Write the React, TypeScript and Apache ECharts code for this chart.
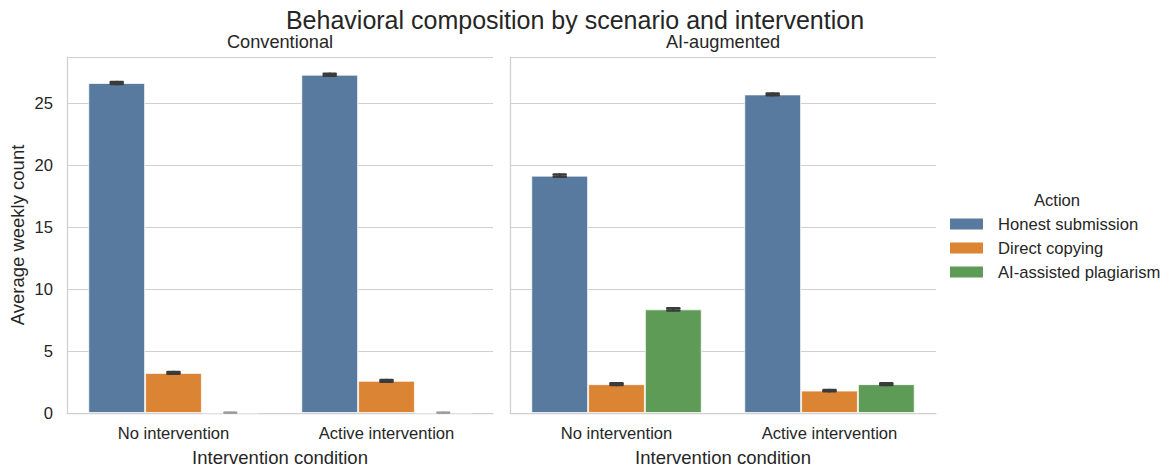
import React, { useEffect, useRef } from 'react';
import * as echarts from 'echarts';

const categories = ['No intervention', 'Active intervention'];
const actions = ['Honest submission', 'Direct copying', 'AI-assisted plagiarism'];
const panelTitles = ['Conventional', 'AI-augmented'];
const yTicks = [0, 5, 10, 15, 20, 25];

// Conventional scenario: means per action, [No intervention, Active intervention]
const convHonest = [26.65, 27.32];
const convCopying = [3.24, 2.6];
const convAIPlag = [0.03, 0.03];
// AI-augmented scenario
const aiHonest = [19.17, 25.73];
const aiCopying = [2.33, 1.81];
const aiAIPlag = [8.37, 2.33];

// half-width of the error bars
const convHonestErr = [0.08, 0.08];
const convCopyingErr = [0.07, 0.07];
const convAIPlagErr = [0.01, 0.01];
const aiHonestErr = [0.09, 0.07];
const aiCopyingErr = [0.06, 0.05];
const aiAIPlagErr = [0.09, 0.06];

const colors = ['#587a9f', '#db8433', '#5d9b57'];
const FONT = '"Liberation Sans", Arial, "DejaVu Sans", sans-serif';
const TEXT = '#262626';
const GRIDC = '#d0d0d0';

export default function App() {
  const ref = useRef<HTMLDivElement>(null);
  useEffect(() => {
    if (!ref.current) return;
    const chart = echarts.init(ref.current, null, { renderer: 'svg' });
    const panelMeans = [
      [convHonest, convCopying, convAIPlag],
      [aiHonest, aiCopying, aiAIPlag],
    ];
    const panelErrs = [
      [convHonestErr, convCopyingErr, convAIPlagErr],
      [aiHonestErr, aiCopyingErr, aiAIPlagErr],
    ];
    const grids = [
      { left: 67, top: 57, width: 426, height: 356 },
      { left: 510, top: 57, width: 426, height: 356 },
    ];
    const xAxes = grids.map((_, i) => ({
      type: 'category',
      gridIndex: i,
      data: categories,
      boundaryGap: true,
      axisTick: { show: false },
      axisLine: { show: true, lineStyle: { color: GRIDC, width: 1.25 } },
      axisLabel: { color: TEXT, fontSize: 16.6, fontFamily: FONT, margin: 12 },
      name: 'Intervention condition',
      nameLocation: 'middle',
      nameGap: 35,
      nameTextStyle: { color: TEXT, fontSize: 18.5, fontFamily: FONT },
      splitLine: { show: false },
    }));
    const yAxes = grids.map((_, i) => ({
      type: 'value',
      gridIndex: i,
      min: 0,
      max: 28.75,
      interval: 5,
      axisTick: { show: false },
      axisLine: { show: true, lineStyle: { color: GRIDC, width: 1.25 } },
      axisLabel: {
        show: i === 0,
        color: TEXT,
        fontSize: 16.6,
        fontFamily: FONT,
        margin: 14,
        showMaxLabel: false,
        formatter: (v: number) => (yTicks.includes(v) ? String(v) : ''),
      },
      splitLine: { show: true, lineStyle: { color: GRIDC, width: 1 } },
      name: i === 0 ? 'Average weekly count' : '',
      nameLocation: 'middle',
      nameRotate: 90,
      nameGap: 40,
      nameTextStyle: { color: TEXT, fontSize: 18.5, fontFamily: FONT },
    }));

    const series: any[] = [];
    panelMeans.forEach((means, p) => {
      means.forEach((vals, h) => {
        series.push({
          type: 'bar',
          name: actions[h],
          xAxisIndex: p,
          yAxisIndex: p,
          data: vals,
          barWidth: '26.67%',
          barGap: '0%',
          itemStyle: { color: colors[h], borderColor: 'rgba(255,255,255,0.7)', borderWidth: 1 },
          z: 2,
        });
      });
    });
    panelMeans.forEach((means, p) => {
      means.forEach((vals, h) => {
        const errs = panelErrs[p][h];
        series.push({
          type: 'custom',
          name: 'err-' + p + '-' + h,
          xAxisIndex: p,
          yAxisIndex: p,
          encode: { x: 0, y: [1, 2] },
          data: vals.map((v, c) => [c, v - errs[c], v + errs[c]]),
          z: 5,
          renderItem: (params: any, api: any) => {
            const cat = api.value(0);
            const lo = api.value(1);
            const hi = api.value(2);
            const band = api.size([1, 0])[0];
            const off = ((h - 1) * band * 0.8) / 3;
            const pLo = api.coord([cat, lo]);
            const pHi = api.coord([cat, hi]);
            const x = pLo[0] + off;
            const cap = 6;
            const thin = Math.abs(pLo[1] - pHi[1]) < 1;
            const st = {
              stroke: thin ? '#9a9a9a' : '#3b3b3b',
              lineWidth: thin ? 2 : 2.6,
              lineCap: 'round',
            };
            return {
              type: 'group',
              children: [
                { type: 'line', shape: { x1: x, y1: pLo[1], x2: x, y2: pHi[1] }, style: st },
                { type: 'line', shape: { x1: x - cap, y1: pLo[1], x2: x + cap, y2: pLo[1] }, style: st },
                { type: 'line', shape: { x1: x - cap, y1: pHi[1], x2: x + cap, y2: pHi[1] }, style: st },
              ],
            };
          },
        });
      });
    });

    chart.setOption({
      animation: false,
      backgroundColor: '#ffffff',
      grid: grids,
      xAxis: xAxes,
      yAxis: yAxes,
      series,
      legend: {
        orient: 'vertical',
        left: 950,
        top: 215.5,
        padding: 0,
        itemGap: 7,
        itemWidth: 33,
        itemHeight: 11,
        icon: 'rect',
        selectedMode: false,
        data: actions.map((a, i) => ({ name: a, itemStyle: { color: colors[i], borderWidth: 0 } })),
        textStyle: { color: TEXT, fontSize: 16.6, fontFamily: FONT, padding: [0, 0, 0, 10] },
      },
      graphic: [
        {
          type: 'text',
          x: 575,
          y: 20,
          style: {
            text: 'Behavioral composition by scenario and intervention',
            fill: TEXT,
            fontSize: 25,
            fontFamily: FONT,
            align: 'center',
            verticalAlign: 'middle',
          },
        },
        ...panelTitles.map((t, i) => ({
          type: 'text',
          x: grids[i].left + grids[i].width / 2,
          y: 42,
          style: { text: t, fill: TEXT, fontSize: 18.2, fontFamily: FONT, align: 'center', verticalAlign: 'middle' },
        })),
        {
          type: 'text',
          x: 1057,
          y: 200,
          style: { text: 'Action', fill: TEXT, fontSize: 16.6, fontFamily: FONT, align: 'center', verticalAlign: 'middle' },
        },
      ],
    });
    return () => chart.dispose();
  }, []);
  return <div ref={ref} style={{ position: 'fixed', left: 0, top: 0, width: 1169, height: 472 }} />;
}
